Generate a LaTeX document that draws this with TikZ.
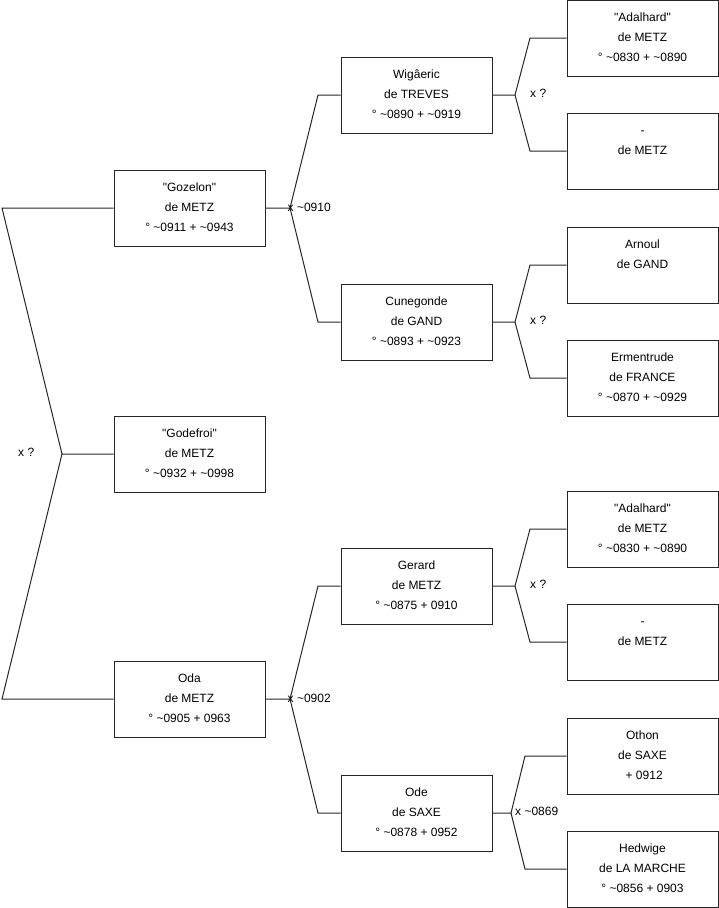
\documentclass[tikz,border=0pt]{standalone}
\usepackage{fontspec}
\setmainfont{Liberation Sans}
\newcommand\tl{\textasciitilde}
\newcommand\qd{\textquotedbl}
\newcommand\st{\rule[-3pt]{0pt}{12pt}}
\begin{document}
\begin{tikzpicture}[x=1pt,y=-1pt,
  box/.style={draw=black!85,line width=1pt,minimum width=151pt,minimum height=76pt,
    inner sep=0pt,align=center,font=\fontsize{12}{20}\selectfont},
  link/.style={draw=black!85,line width=1pt},
  lbl/.style={anchor=west,inner sep=0pt,font=\fontsize{12}{14}\selectfont}]
\useasboundingbox (0,0) rectangle (719,908);
% level 1
\node[box] (goz) at (189.5,208) {\st\qd Gozelon\qd\\de METZ\\\st° \tl0911 + \tl0943};
\node[box] (gof) at (189.5,454) {\st\qd Godefroi\qd\\de METZ\\\st° \tl0932 + \tl0998};
\node[box] (oda) at (189.5,699) {\st Oda\\de METZ\\\st° \tl0905 + 0963};
% level 2
\node[box] (wig) at (416.5,95) {\st Wigâeric\\de TREVES\\\st° \tl0890 + \tl0919};
\node[box] (cun) at (416.5,322) {\st Cunegonde\\de GAND\\\st° \tl0893 + \tl0923};
\node[box] (ger) at (416.5,586) {\st Gerard\\de METZ\\\st° \tl0875 + 0910};
\node[box] (ode) at (416.5,813) {\st Ode\\de SAXE\\\st° \tl0878 + 0952};
% level 3
\node[box] (ada1) at (642.5,38) {\st\qd Adalhard\qd\\de METZ\\\st° \tl0830 + \tl0890};
\node[box] (met1) at (642.5,151) {\st-\\de METZ\\\st};
\node[box] (arn) at (642.5,265) {\st Arnoul\\de GAND\\\st};
\node[box] (erm) at (642.5,378) {\st Ermentrude\\de FRANCE\\\st° \tl0870 + \tl0929};
\node[box] (ada2) at (642.5,529) {\st\qd Adalhard\qd\\de METZ\\\st° \tl0830 + \tl0890};
\node[box] (met2) at (642.5,642) {\st-\\de METZ\\\st};
\node[box] (oth) at (642.5,756) {\st Othon\\de SAXE\\\st\ + 0912};
\node[box] (hed) at (642.5,869) {\st Hedwige\\de LA MARCHE\\\st° \tl0856 + 0903};
% junction coordinates
\coordinate (r0) at (62,454); \coordinate (r0a) at (2,208); \coordinate (r0b) at (2,699);
\coordinate (g0) at (290,208); \coordinate (g0a) at (318,95); \coordinate (g0b) at (318,322);
\coordinate (o0) at (290,699); \coordinate (o0a) at (318,586); \coordinate (o0b) at (318,813);
\coordinate (w0) at (515,95); \coordinate (w0a) at (530,38); \coordinate (w0b) at (530,151);
\coordinate (c0) at (515,322); \coordinate (c0a) at (530,265); \coordinate (c0b) at (530,378);
\coordinate (e0) at (515,586); \coordinate (e0a) at (530,529); \coordinate (e0b) at (530,642);
\coordinate (d0) at (511,813); \coordinate (d0a) at (525,756); \coordinate (d0b) at (525,869);
% connectors
\draw[link] (goz.west) -- (r0a) -- (r0) -- (gof.west);
\draw[link] (r0) -- (r0b) -- (oda.west);
\draw[link] (goz.east) -- (g0) -- (g0a) -- (wig.west);
\draw[link] (g0) -- (g0b) -- (cun.west);
\draw[link] (oda.east) -- (o0) -- (o0a) -- (ger.west);
\draw[link] (o0) -- (o0b) -- (ode.west);
\draw[link] (wig.east) -- (w0) -- (w0a) -- (ada1.west);
\draw[link] (w0) -- (w0b) -- (met1.west);
\draw[link] (cun.east) -- (c0) -- (c0a) -- (arn.west);
\draw[link] (c0) -- (c0b) -- (erm.west);
\draw[link] (ger.east) -- (e0) -- (e0a) -- (ada2.west);
\draw[link] (e0) -- (e0b) -- (met2.west);
\draw[link] (ode.east) -- (d0) -- (d0a) -- (oth.west);
\draw[link] (d0) -- (d0b) -- (hed.west);
% labels
\node[lbl] (l0) at (18,452) {x ?};
\node[lbl] (l1) at (287.5,207) {x \tl0910};
\node[lbl] (l2) at (287.5,698) {x \tl0902};
\node[lbl] (l3) at (530,93) {x ?};
\node[lbl] (l4) at (530,320) {x ?};
\node[lbl] (l5) at (530,584) {x ?};
\node[lbl] (l6) at (515,811) {x \tl0869};
\end{tikzpicture}
\end{document}
